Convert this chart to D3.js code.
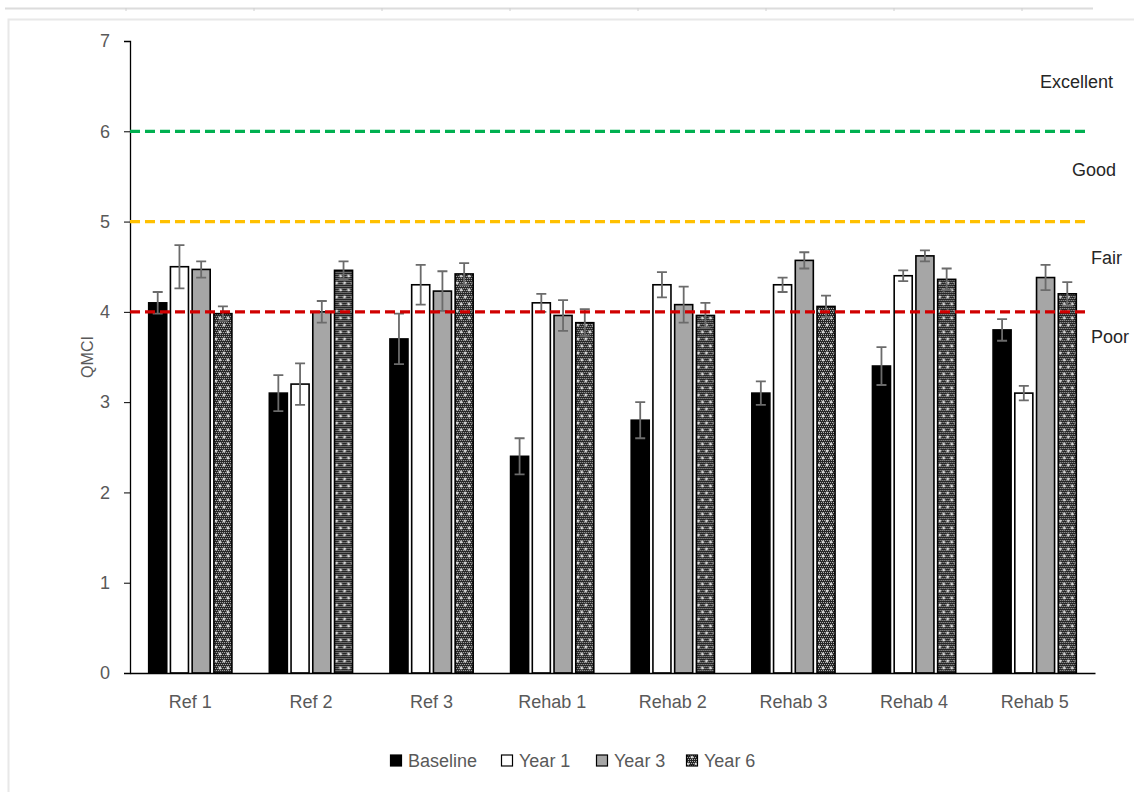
<!DOCTYPE html>
<html>
<head>
<meta charset="utf-8">
<script src="https://cdn.jsdelivr.net/npm/d3@7"></script>
<style>
	body { margin: 0; background: #fff; }
	svg { display: block; font-family: "Liberation Sans", Arial, sans-serif; }
</style>
</head>
<body>
<div id="chart"></div>
<script>
var sites = ["Ref 1", "Ref 2", "Ref 3", "Rehab 1", "Rehab 2", "Rehab 3", "Rehab 4", "Rehab 5"];
var seriesNames = ["Baseline", "Year 1", "Year 3", "Year 6"];
var baseline = [4.1, 3.1, 3.7, 2.4, 2.8, 3.1, 3.4, 3.8];
var year1 = [4.5, 3.2, 4.3, 4.1, 4.3, 4.3, 4.4, 3.1];
var year3 = [4.47, 4.0, 4.23, 3.96, 4.08, 4.57, 4.62, 4.38];
var year6 = [3.98, 4.46, 4.42, 3.88, 3.96, 4.06, 4.36, 4.2];
var errBaseline = [0.12, 0.2, 0.28, 0.2, 0.2, 0.13, 0.21, 0.12];
var errYear1 = [0.24, 0.23, 0.22, 0.1, 0.14, 0.08, 0.06, 0.08];
var errYear3 = [0.09, 0.12, 0.22, 0.17, 0.2, 0.09, 0.06, 0.14];
var errYear6 = [0.08, 0.1, 0.12, 0.15, 0.14, 0.12, 0.12, 0.13];
var yTicks = [0, 1, 2, 3, 4, 5, 6, 7];
var thresholds = [6, 5, 4];
var thresholdColors = ["#00b050", "#ffc000", "#d00000"];
var ratingNames = ["Excellent", "Good", "Fair", "Poor"];
var ratingValues = [6.55, 5.57, 4.6, 3.72];

function drawChart()
{
	var dim = {
		width: 1134,
		height: 792,
		left: 130,
		right: 1095,
		top: 41,
		bottom: 673
	};

	var values = [baseline, year1, year3, year6];
	var errors = [errBaseline, errYear1, errYear3, errYear6];
	var fills = ["#000000", "#ffffff", "#a6a6a6", "url(#dots)"];
	var ratingX = [1040, 1072, 1091, 1091];

	var rows = [];
	sites.forEach((s, i) => {
		seriesNames.forEach((n, j) => {
			rows.push({site: s, series: n, idx: j, value: values[j][i], err: errors[j][i]});
		});
	});

	var svg = d3.select("#chart")
		.append("svg")
		.attr("width", dim.width)
		.attr("height", dim.height);

	// year 6 texture
	var pat = svg.append("defs").append("pattern")
		.attr("id", "dots")
		.attr("patternUnits", "userSpaceOnUse")
		.attr("width", 8)
		.attr("height", 14);
	pat.append("rect").attr("width", 8).attr("height", 14).attr("fill", "#262626");
	for (var px = 0; px < 8; px += 2) {
		for (var py = 0; py < 14; py += 2) {
			pat.append("rect").attr("x", px + (py % 4 ? 1 : 0)).attr("y", py)
				.attr("width", 1).attr("height", 1).attr("fill", "#b0b0b0");
		}
	}
	[[2, 3], [6, 10]].forEach(p => {
		pat.append("rect").attr("x", p[0] - 1.5).attr("y", p[1] - 0.5).attr("width", 3).attr("height", 1).attr("fill", "#fff");
		pat.append("rect").attr("x", p[0] - 0.5).attr("y", p[1] - 1.5).attr("width", 1).attr("height", 3).attr("fill", "#fff");
	});

	// sheet frame
	svg.append("line")
		.attr("x1", 5).attr("x2", 1093).attr("y1", 8.5).attr("y2", 8.5)
		.attr("stroke", "#dcdcdc").attr("stroke-width", 2);
	svg.append("g").selectAll("line")
		.data(d3.range(126, 1093, 128))
		.join("line")
		.attr("x1", d => d).attr("x2", d => d)
		.attr("y1", 8).attr("y2", 11)
		.attr("stroke", "#d0d0d0");
	svg.append("path")
		.attr("d", "M8.5,792V19.5H1134")
		.attr("fill", "none")
		.attr("stroke", "#e8e8e8")
		.attr("stroke-width", 2);

	var x = d3.scaleBand()
		.domain(sites)
		.range([dim.left, dim.right])
		.paddingInner(0.31)
		.paddingOuter(0.155);

	var xs = d3.scaleBand()
		.domain(seriesNames)
		.range([0, x.bandwidth()])
		.paddingInner(0.17);

	var y = d3.scaleLinear()
		.domain([0, 7])
		.range([dim.bottom, dim.top]);

	var yAxis = svg.append("g")
		.attr("transform", `translate(${dim.left},0)`)
		.call(d3.axisLeft(y).tickValues(yTicks).tickSize(6).tickPadding(14).tickFormat(d3.format("d")));
	yAxis.select(".domain").attr("stroke", "#000").attr("stroke-width", 1.3);
	yAxis.selectAll(".tick line").attr("stroke", "#000");
	yAxis.selectAll("text")
		.attr("fill", "#595959")
		.style("font-size", "18px");

	svg.append("text")
		.attr("transform", `translate(93,357) rotate(-90)`)
		.attr("text-anchor", "middle")
		.attr("fill", "#595959")
		.style("font-size", "16px")
		.text("QMCI");

	var groups = svg.append("g")
		.selectAll("g")
		.data(rows)
		.join("g")
		.attr("transform", d => `translate(${x(d.site) + xs(d.series)},0)`);

	groups.append("rect")
		.attr("x", 0)
		.attr("y", d => y(d.value))
		.attr("width", xs.bandwidth())
		.attr("height", d => y(0) - y(d.value))
		.attr("fill", (d) => fills[d.idx])
		.attr("stroke", "#000")
		.attr("stroke-width", 1.6);

	var cx = xs.bandwidth() / 2;
	groups.append("path")
		.attr("d", d => {
			var t = y(d.value + d.err), b = y(d.value - d.err);
			return `M${cx},${t}V${b}M${cx - 5},${t}H${cx + 5}M${cx - 5},${b}H${cx + 5}`;
		})
		.attr("fill", "none")
		.attr("stroke", "#6b6b6b")
		.attr("stroke-width", 1.8);

	var xAxis = svg.append("g")
		.attr("transform", `translate(0,${dim.bottom})`)
		.call(d3.axisBottom(x).tickSize(0).tickPadding(22));
	xAxis.select(".domain").attr("stroke", "#000").attr("stroke-width", 1.3);
	xAxis.selectAll("text")
		.attr("fill", "#595959")
		.style("font-size", "18px");

	svg.append("g")
		.selectAll("line")
		.data(thresholds)
		.join("line")
		.attr("x1", dim.left)
		.attr("x2", 1085)
		.attr("y1", d => y(d))
		.attr("y2", d => y(d))
		.attr("stroke", (d, i) => thresholdColors[i])
		.attr("stroke-width", 3.2)
		.attr("stroke-dasharray", "10,5");

	svg.append("g")
		.selectAll("text")
		.data(ratingNames)
		.join("text")
		.attr("x", (d, i) => ratingX[i])
		.attr("y", (d, i) => y(ratingValues[i]))
		.attr("dy", "0.35em")
		.attr("fill", "#262626")
		.style("font-size", "18px")
		.text(d => d);

	var legendX = [390, 501, 596, 686];
	var legend = svg.append("g")
		.selectAll("g")
		.data(seriesNames)
		.join("g")
		.attr("transform", (d, i) => `translate(${legendX[i]},761)`);
	legend.append("rect")
		.attr("x", 0.5)
		.attr("y", -6)
		.attr("width", 11)
		.attr("height", 11)
		.attr("fill", (d, i) => fills[i])
		.attr("stroke", "#000")
		.attr("stroke-width", 1.2);
	legend.append("text")
		.attr("x", 18)
		.attr("y", 0)
		.attr("dy", "0.35em")
		.attr("fill", "#595959")
		.style("font-size", "18px")
		.text(d => d);
}

drawChart();
</script>
</body>
</html>
